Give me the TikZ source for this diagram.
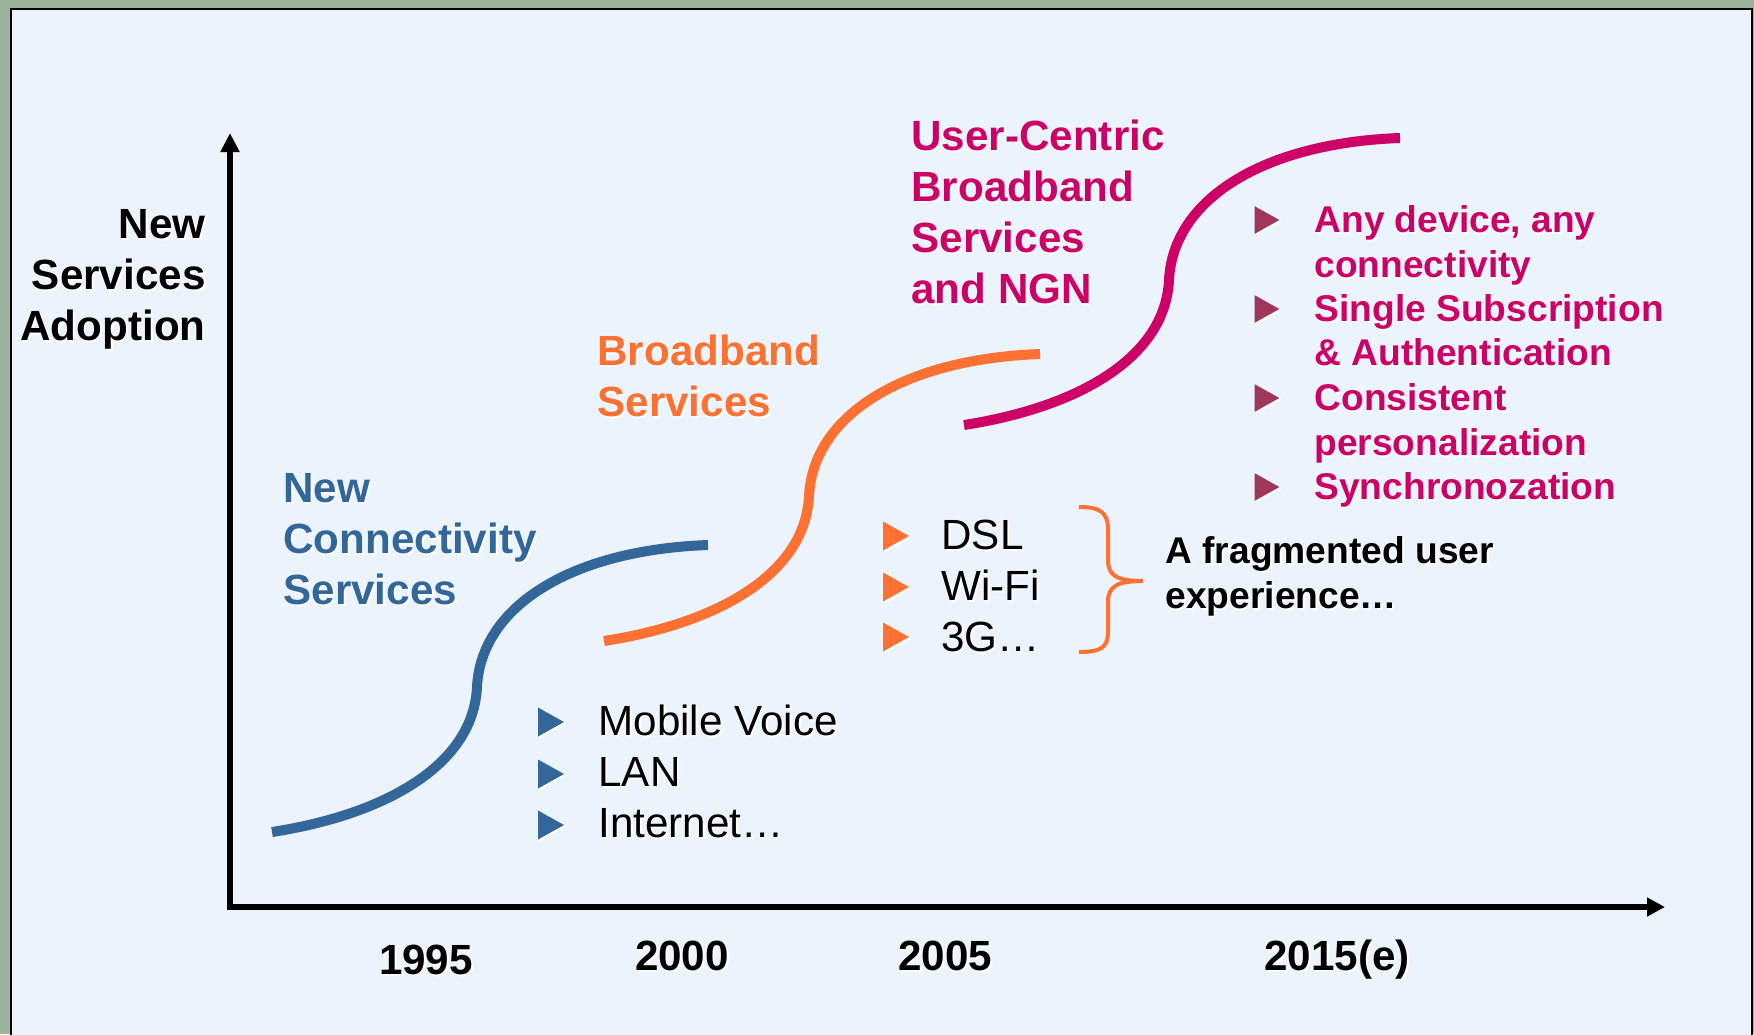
\documentclass[tikz,border=0pt]{standalone}
\usepackage{fontspec}
\setmainfont{Liberation Sans}
\usetikzlibrary{arrows.meta}

\definecolor{frameGreen}{HTML}{9BB49B}
\definecolor{panelBlue}{HTML}{EBF3FD}
\definecolor{blueC}{HTML}{336699}
\definecolor{orangeC}{HTML}{FF7033}
\definecolor{crimsonC}{HTML}{CC0066}
\definecolor{roseC}{HTML}{A0375A}

% text with a soft white drop shadow
\newcommand\shd[1]{\makebox[0pt][l]{\kern1pt\raisebox{-1pt}{\color{white}#1}}#1}

\tikzset{
  big/.style={inner sep=0pt, font=\bfseries\fontsize{21.1}{25}\selectfont},
  mid/.style={inner sep=0pt, font=\bfseries\fontsize{18.6}{22}\selectfont},
  plain/.style={inner sep=0pt, font=\fontsize{21.1}{25}\selectfont},
  tri/.pic={
    \fill[white] (-11,-12.5) -- (15,1.5) -- (-11,16.5) -- cycle;
    \fill[pic actions] (-13,-14.5) -- (13,0) -- (-13,14.5) -- cycle;
  },
  scurve/.pic={
    \draw[pic actions, line width=5pt]
      (0,0) .. controls (110,-17) and (201,-65) .. (205,-145)
            .. controls (209,-225) and (298,-282) .. (436,-287);
  },
}

\begin{document}
\begin{tikzpicture}[x=0.5pt,y=-0.5pt]
\useasboundingbox (0,0) rectangle (1754,1034);

% frame and panel
\fill[frameGreen] (0,0) rectangle (1754,1034);
\begin{scope}
  \clip (0,0) rectangle (1754,1034);
  \filldraw[fill=panelBlue, draw=black, line width=1pt] (11,9) rectangle (1752,1045);
\end{scope}

% axes
\coordinate (ytop) at (230,133);
\coordinate (origin) at (230,907);
\coordinate (xend) at (1665,907);
\draw[line width=2.8pt, line join=miter,
      {Triangle[width=9pt,length=9.5pt]}-{Triangle[width=9pt,length=9pt]}]
  (ytop) -- (origin) -- (xend);

% axis title
\node[big, anchor=base east] (yl1) at (206,238) {\shd{New}};
\node[big, anchor=base east] (yl2) at (206,289) {\shd{Services}};
\node[big, anchor=base east] (yl3) at (206,340) {\shd{Adoption}};

% years
\node[big, anchor=base] (y1995) at (426,974) {\shd{1995}};
\node[big, anchor=base] (y2000) at (682,970) {\shd{2000}};
\node[big, anchor=base] (y2005) at (945,970) {\shd{2005}};
\node[big, anchor=base] (y2015) at (1337,970) {\shd{2015(e)}};

% adoption curves
\pic[draw=blueC] at (272,832) {scurve};
\pic[draw=orangeC] at (604,641) {scurve};
\pic[draw=crimsonC] at (964,425) {scurve};

% wave titles
\begin{scope}[every node/.append style={big, anchor=base west}]
  \node[text=blueC] (b1) at (283,502) {\shd{New}};
  \node[text=blueC] (b2) at (283,553) {\shd{Connectivity}};
  \node[text=blueC] (b3) at (283,604) {\shd{Services}};
  \node[text=orangeC] (o1) at (597,365) {\shd{Broadband}};
  \node[text=orangeC] (o2) at (597,416) {\shd{Services}};
  \node[text=crimsonC] (c1) at (911,150) {\shd{User-Centric}};
  \node[text=crimsonC] (c2) at (911,201) {\shd{Broadband}};
  \node[text=crimsonC] (c3) at (911,252) {\shd{Services}};
  \node[text=crimsonC] (c4) at (911,303) {\shd{and NGN}};
\end{scope}

% first wave items
\pic[fill=blueC] at (551,722) {tri};
\pic[fill=blueC] at (551,774) {tri};
\pic[fill=blueC] at (551,825) {tri};
\node[plain, anchor=base west] (l1) at (598,735) {\shd{Mobile Voice}};
\node[plain, anchor=base west] (l2) at (598,786) {\shd{LAN}};
\node[plain, anchor=base west] (l3) at (598,837) {\shd{Internet…}};

% second wave items
\pic[fill=orangeC] at (896,536) {tri};
\pic[fill=orangeC] at (896,587) {tri};
\pic[fill=orangeC] at (896,637) {tri};
\node[plain, anchor=base west] (m1) at (941,549) {\shd{DSL}};
\node[plain, anchor=base west] (m2) at (941,600) {\shd{Wi-Fi}};
\node[plain, anchor=base west] (m3) at (941,651) {\shd{3G…}};

% brace and comment
\draw[orangeC, line width=2pt]
  (1079,507) .. controls (1100,507) and (1108,512) .. (1108,530)
  -- (1108,560) .. controls (1108,575) and (1116,581) .. (1143,581)
  .. controls (1116,581) and (1108,587) .. (1108,602)
  -- (1108,632) .. controls (1108,648) and (1100,652) .. (1079,652);
\node[mid, anchor=base west] (f1) at (1165,563) {\shd{A fragmented user}};
\node[mid, anchor=base west] (f2) at (1165,608) {\shd{experience…}};

% third wave items
\pic[fill=roseC, scale=0.95] at (1267,220) {tri};
\pic[fill=roseC, scale=0.95] at (1267,309) {tri};
\pic[fill=roseC, scale=0.95] at (1267,398) {tri};
\pic[fill=roseC, scale=0.95] at (1267,487) {tri};
\begin{scope}[every node/.append style={mid, anchor=base west, text=crimsonC}]
  \node (r1) at (1314,232) {\shd{Any device, any}};
  \node (r2) at (1314,277) {\shd{connectivity}};
  \node (r3) at (1314,321) {\shd{Single Subscription}};
  \node (r4) at (1314,365) {\shd{\& Authentication}};
  \node (r5) at (1314,410) {\shd{Consistent}};
  \node (r6) at (1314,455) {\shd{personalization}};
  \node (r7) at (1314,499) {\shd{Synchronozation}};
\end{scope}
\end{tikzpicture}
\end{document}
